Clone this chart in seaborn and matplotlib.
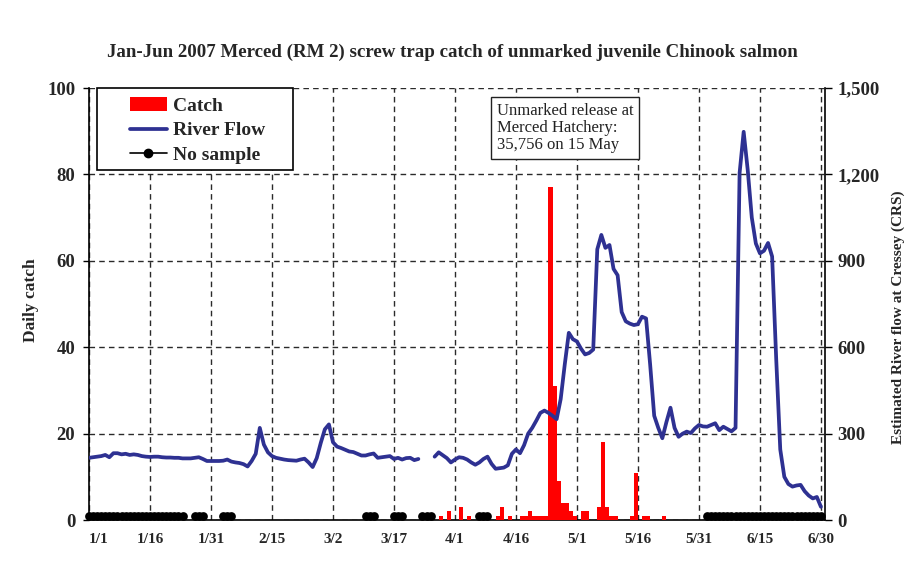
import numpy as np
import pandas as pd
import matplotlib
matplotlib.use("Agg")
import matplotlib.pyplot as plt
import seaborn as sns
from matplotlib.patches import Patch, Rectangle
from matplotlib.lines import Line2D
from matplotlib.ticker import FuncFormatter

TITLE = "Jan-Jun 2007 Merced (RM 2) screw trap catch of unmarked juvenile Chinook salmon"
YLABEL_LEFT = "Daily catch"
YLABEL_RIGHT = "Estimated River flow at Cressey (CRS)"
NOTE = "Unmarked release at\nMerced Hatchery:\n35,756 on 15 May"
LEGEND_LABELS = ["Catch", "River Flow", "No sample"]

TICK_DATES = ["1/1", "1/16", "1/31", "2/15", "3/2", "3/17", "4/1", "4/16",
              "5/1", "5/16", "5/31", "6/15", "6/30"]
CATCH_TICKS = [0, 20, 40, 60, 80, 100]
FLOW_TICKS = [0, 300, 600, 900, 1200, 1500]

# day index: 0 = 1 Jan 2007
CATCH_DAYS = [86, 88, 91, 93, 100, 101, 103, 106, 107, 108, 109, 110, 111, 112,
              113, 114, 115, 116, 117, 118, 119, 121, 122, 125, 126, 127, 128,
              129, 133, 134, 136, 137, 141]
CATCH_VALUES = [1, 2, 3, 1, 1, 3, 1, 1, 1, 2, 1, 1, 1, 1,
                77, 31, 9, 4, 4, 2, 1, 2, 2, 3, 18, 3, 1,
                1, 1, 11, 1, 1, 1]

FLOW_CFS = [
    216, 218, 220, 222, 226, 218, 232, 232, 228, 230,
    226, 228, 226, 222, 220, 219, 220, 220, 218, 217,
    217, 216, 216, 214, 214, 214, 216, 218, 212, 205,
    205, 205, 205, 206, 210, 203, 200, 198, 194, 186,
    205, 230, 320, 262, 235, 222, 216, 213, 210, 208,
    207, 206, 210, 213, 200, 184, 215, 268, 315, 332,
    270, 255, 250, 244, 238, 236, 230, 224, 224, 228,
    231, 216, 218, 220, 222, 212, 216, 210, 215, 216,
    208, 212, None, None, None, 220, 235, 225, 215, 200,
    210, 218, 216, 210, 200, 192, 200, 212, 220, 195,
    178, 180, 182, 190, 230, 245, 232, 260, 300, 320,
    345, 372, 380, 372, 362, 350, 420, 540, 650, 628,
    620, 595, 575, 580, 592, 940, 990, 945, 955, 872,
    850, 722, 690, 682, 677, 680, 706, 700, 540, 362,
    320, 284, 340, 390, 320, 289, 300, 307, 302, 318,
    330, 325, 324, 330, 336, 312, 324, 316, 308, 320,
    1205, 1348, 1215, 1050, 960, 926, 935, 962, 915, 560,
    245, 150, 125, 116, 120, 122, 100, 85, 75, 80,
    46,
]

NO_SAMPLE_DAYS = (list(range(0, 24)) + [26, 27, 28] + [33, 34, 35] +
                  [68, 69, 70] + [75, 76, 77] + [82, 83, 84] + [96, 97, 98] +
                  list(range(152, 181)))
NO_SAMPLE_LEVEL = 1

FLOW_COLOR = "#2E3192"
CATCH_COLOR = "#FF0000"


def day_index(s):
    m, d = map(int, s.split("/"))
    return pd.Timestamp(2007, m, d).dayofyear - 1


sns.set_theme(style="white")
plt.rcParams["font.family"] = ["Liberation Serif", "DejaVu Serif"]

fig = plt.figure(figsize=(9.13, 5.65), dpi=100)
ax = fig.add_axes([0.0975, 0.0796, 0.8061, 0.7646])

# catch bars
catch = pd.DataFrame({"day": CATCH_DAYS, "n": CATCH_VALUES})
sns.histplot(data=catch, x="day", weights="n", binwidth=1, binrange=(0, 181),
             color=CATCH_COLOR, alpha=1, linewidth=0, ax=ax, zorder=3)

# no-sample markers
ns = pd.DataFrame({"day": NO_SAMPLE_DAYS})
ns["seg"] = (ns["day"].diff().fillna(1) > 1).cumsum()
ns["val"] = NO_SAMPLE_LEVEL
sns.lineplot(data=ns, x="day", y="val", units="seg", estimator=None,
             color="black", marker="o", markersize=6.3, markeredgewidth=0,
             lw=1.5, ax=ax, legend=False, zorder=4, clip_on=False)

ax.set_xlim(0, 181)
ax.set_ylim(0, 100)
tick_pos = [day_index(s) for s in TICK_DATES]
ax.set_xticks(tick_pos)
ax.set_xticklabels(TICK_DATES, fontsize=11, fontweight="bold")
ax.get_xticklabels()[0].set_ha("left")
ax.set_yticks(CATCH_TICKS)
ax.set_yticklabels([str(v) for v in CATCH_TICKS], fontsize=13.5, fontweight="bold")
ax.grid(True, which="major", axis="both", ls=(0, (4, 3)), color="#2a2a2a", lw=1.0)
ax.set_axisbelow(True)
ax.tick_params(axis="x", direction="inout", length=7, width=1, color="black", pad=6)
ax.tick_params(axis="y", direction="out", length=4, width=1, color="black", pad=6, left=True)
ax.set_xlabel("")
ax.set_ylabel(YLABEL_LEFT, fontsize=12.5, fontweight="bold")
ax.yaxis.set_label_coords(-0.068, 0.509)
for s in ["top", "right"]:
    ax.spines[s].set_visible(False)
for s in ["left", "bottom"]:
    ax.spines[s].set_color("black")
    ax.spines[s].set_linewidth(1.2)

# river flow on secondary axis
ax2 = ax.twinx()
flow = pd.DataFrame({"day": np.arange(len(FLOW_CFS)),
                     "cfs": np.array(FLOW_CFS, dtype=float)})
flow["seg"] = flow["cfs"].isna().cumsum()
flow = flow.dropna()
sns.lineplot(data=flow, x="day", y="cfs", units="seg", estimator=None,
             color=FLOW_COLOR, lw=2.7, ax=ax2, legend=False)
ax2.set_ylim(0, 1500)
ax2.set_xlim(0, 181)
ax2.set_yticks(FLOW_TICKS)
ax2.yaxis.set_major_formatter(FuncFormatter(lambda v, p: f"{int(v):,}"))
for lab in ax2.get_yticklabels():
    lab.set_fontsize(13.5)
    lab.set_fontweight("bold")
ax2.tick_params(axis="y", direction="out", length=5, width=1, color="black", pad=4, right=True)
ax2.set_ylabel(YLABEL_RIGHT, fontsize=11, fontweight="bold")
ax2.yaxis.set_label_coords(1.091, 0.47)
ax2.grid(False)
for s in ["top", "left", "bottom"]:
    ax2.spines[s].set_visible(False)
ax2.spines["right"].set_color("black")
ax2.spines["right"].set_linewidth(1.2)

# legend box + legend
ax2.add_patch(Rectangle((0.0109, 0.810), 0.266, 0.190, transform=ax2.transAxes,
                        facecolor="white", edgecolor="black", lw=1.2, zorder=6,
                        clip_on=False))
handles = [Patch(facecolor=CATCH_COLOR, edgecolor="none"),
           Line2D([], [], color=FLOW_COLOR, lw=2.7),
           Line2D([], [], color="black", lw=1.2, marker="o", markersize=6)]
leg = ax2.legend(handles, LEGEND_LABELS, loc="upper left",
                 bbox_to_anchor=(0.0557, 0.979), borderaxespad=0, borderpad=0,
                 frameon=False, handlelength=1.9, handletextpad=0.3,
                 labelspacing=0.36, prop={"family": "Liberation Serif",
                                          "weight": "bold", "size": 14})
leg.set_zorder(7)

# annotation
ax2.text(0.647, 0.907, NOTE, transform=ax2.transAxes, ha="center", va="center",
         multialignment="left", fontsize=12, linespacing=1.08, color="#222222",
         bbox=dict(boxstyle="square,pad=0.35", fc="white", ec="#222222", lw=1),
         zorder=8)

fig.text(0.495, 1 - 52 / 565, TITLE, ha="center", va="center",
         fontsize=13.6, fontweight="bold")

fig.savefig("out.png", dpi=100)
